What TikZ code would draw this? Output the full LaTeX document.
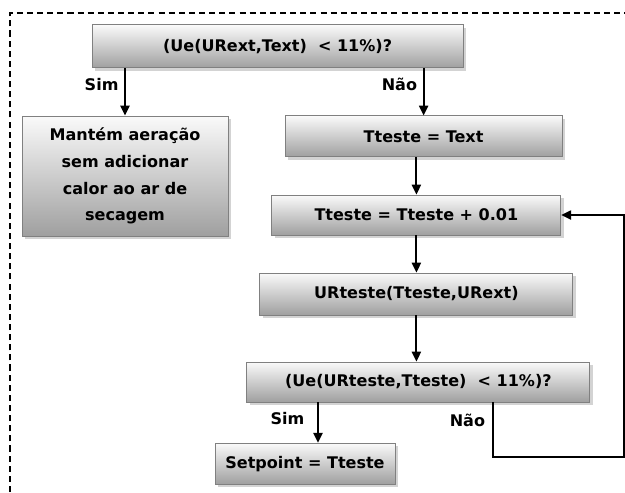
\documentclass[tikz,border=0pt]{standalone}
\usepackage{fontspec}
\setmainfont{DejaVu Sans}
\usepackage{tikz}
\usetikzlibrary{shadows}
\usetikzlibrary{positioning, arrows.meta, calc}

\begin{document}
\begin{tikzpicture}[
    stepbox/.style={draw=gray, line width=0.6pt, rectangle, top color=gray!4, bottom color=gray!75, drop shadow={shadow xshift=2pt, shadow yshift=-2pt, opacity=0.35, fill=gray}, align=center, inner sep=2pt, font=\bfseries\fontsize{11.4}{19}\selectfont},
    arrow/.style={-{Triangle[length=7pt, width=6.5pt]}, line width=1.3pt},
    link/.style={line width=1.3pt},
    label/.style={font=\bfseries\fontsize{11.4}{14}\selectfont, inner sep=1pt},
    border/.style={dashed, dash pattern=on 4.3pt off 2.9pt, line width=0.8pt}
]
    \useasboundingbox (0,0) rectangle (15.625,-12.3);

    % Moldura tracejada
    \draw[border] (0.25,-12.3) |- (15.625,-0.325);

    % Caixas
    \node[stepbox, minimum width=9.275cm, minimum height=1.075cm] (cond1) at (6.94,-1.16) {(Ue(URext,Text)\ \ < 11\%)?};
    \node[stepbox, minimum width=5.15cm, minimum height=3.0cm] (mantem) at (3.125,-4.4) {Mantém aeração\\sem adicionar\\calor ao ar de\\secagem};
    \node[stepbox, minimum width=6.925cm, minimum height=1.025cm] (tinit) at (10.59,-3.41) {Tteste = Text};
    \node[stepbox, minimum width=7.225cm, minimum height=1.0cm] (tinc) at (10.41,-5.375) {Tteste = Tteste + 0.01};
    \node[stepbox, minimum width=7.825cm, minimum height=1.05cm] (urteste) at (10.41,-7.35) {URteste(Tteste,URext)};
    \node[stepbox, minimum width=8.575cm, minimum height=1.0cm] (cond2) at (10.46,-9.55) {(Ue(URteste,Tteste)\ \ < 11\%)?};
    \node[stepbox, minimum width=4.5cm, minimum height=1.025cm] (setpoint) at (7.625,-11.59) {Setpoint = Tteste};

    % Pontos auxiliares
    \coordinate (simx) at (7.95,0);
    \coordinate (naox) at (12.325,0);
    \coordinate (volta) at (15.6,-11.425);

    % Ligacoes
    \draw[arrow] (cond1.south -| mantem.north) -- node[label, left, pos=0.35, xshift=-3pt] {Sim} (mantem.north);
    \draw[arrow] (cond1.south -| tinit.north) -- node[label, left, pos=0.35, xshift=-3pt] {Não} (tinit.north);
    \draw[arrow] (tinit.south -| tinc.north) -- (tinc.north);
    \draw[arrow] (tinc.south) -- (urteste.north);
    \draw[arrow] (urteste.south -| tinc.south) -- (cond2.north -| tinc.south);
    \draw[arrow] (cond2.south -| simx) -- node[label, left, pos=0.4, xshift=-8pt] {Sim} (setpoint.north -| simx);
    \draw[arrow] (cond2.south -| naox) |- node[label, left, pos=0.16, xshift=-4pt] {Não} (volta) |- (tinc.east);
\end{tikzpicture}
\end{document}
